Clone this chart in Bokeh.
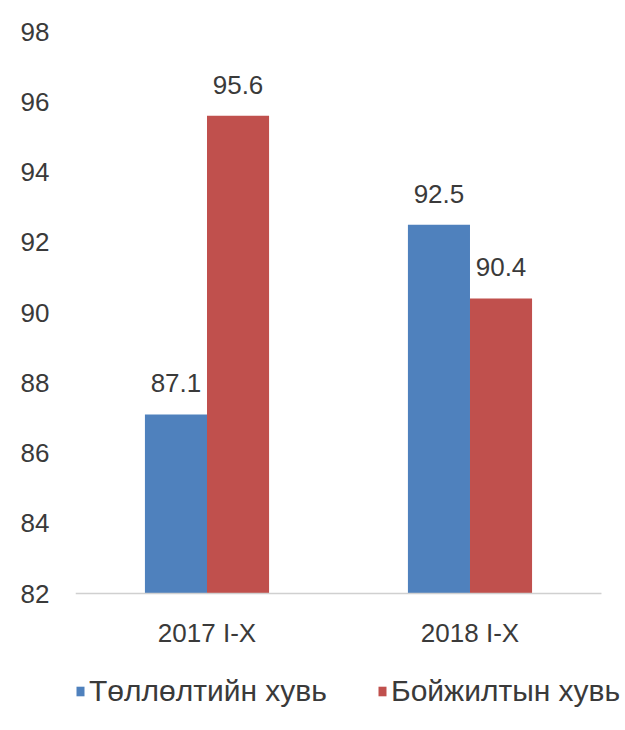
from bokeh.plotting import figure
from bokeh.models import ColumnDataSource, Range1d, FixedTicker, Legend, LegendItem, LabelSet
from bokeh.core.properties import value
from bokeh.embed import file_html
from bokeh.resources import INLINE

categories = ["2017 I-X", "2018 I-X"]
series_names = ["Төллөлтийн хувь", "Бойжилтын хувь"]
birth_rate = [87.1, 92.5]
survival_rate = [95.6, 90.4]
y_ticks = [82, 84, 86, 88, 90, 92, 94, 96, 98]
colors = ["#4F81BD", "#C0504D"]

FONT = "Liberation Sans"
FS = "26px"
TXT = "#3a3a3a"

# frame extends below the value axis (and a little past the last category)
# so the legend can sit inside it without being clipped
Y_LOW = 78.386
X_HIGH = len(categories) + 0.0913
bw = 0.236

centers = [i + 0.5 for i in range(len(categories))]
src = ColumnDataSource(dict(
    cat=categories,
    xc=centers,
    xa=[c - bw / 2 for c in centers],
    xb=[c + bw / 2 for c in centers],
    a=birth_rate,
    b=survival_rate,
    base=[y_ticks[0]] * len(categories),
    a_lbl=[f"{v:.1f}" for v in birth_rate],
    b_lbl=[f"{v:.1f}" for v in survival_rate],
))

p = figure(x_range=Range1d(0, X_HIGH), y_range=Range1d(Y_LOW, y_ticks[-1]),
           width=625, height=730, output_backend="svg", toolbar_location=None,
           min_border_left=75, min_border_right=0, min_border_top=31, min_border_bottom=10)
p.outline_line_color = None
p.xgrid.grid_line_color = None
p.ygrid.grid_line_color = None
p.xaxis.visible = False

r1 = p.vbar(x="xa", top="a", bottom="base", width=bw,
            source=src, fill_color=colors[0], line_color=None)
r2 = p.vbar(x="xb", top="b", bottom="base", width=bw,
            source=src, fill_color=colors[1], line_color=None)

# category axis line at the base value, spanning the categories
p.segment(x0=[0], x1=[len(categories)], y0=[y_ticks[0]], y1=[y_ticks[0]],
          line_color="#d0d0d0", line_width=1.5)

# value labels
for col, lbl, xcol in (("a", "a_lbl", "xa"), ("b", "b_lbl", "xb")):
    p.add_layout(LabelSet(x=xcol, y=col, text=lbl, source=src,
                          text_align="center", text_baseline="bottom", y_offset=22,
                          text_font=value(FONT), text_font_size=value(FS), text_color=TXT))

# category labels
p.add_layout(LabelSet(x="xc", y="base", text="cat", source=src,
                      text_align="center", text_baseline="top", y_offset=-24,
                      text_font=value(FONT), text_font_size=value(FS), text_color=TXT))

p.yaxis.ticker = FixedTicker(ticks=y_ticks)
p.yaxis.axis_line_color = None
p.yaxis.major_tick_line_color = None
p.yaxis.minor_tick_line_color = None
p.yaxis.major_label_standoff = 20
p.yaxis.major_label_text_font = FONT
p.yaxis.major_label_text_font_size = FS
p.yaxis.major_label_text_color = TXT

legend = Legend(items=[LegendItem(label=series_names[0], renderers=[r1]),
                       LegendItem(label=series_names[1], renderers=[r2])],
                orientation="horizontal", location=(0, 12),
                glyph_width=10, glyph_height=12, label_standoff=4, spacing=50,
                padding=0, margin=0, border_line_color=None, background_fill_alpha=0,
                label_text_font=FONT, label_text_font_size="30px", label_text_color=TXT)
p.add_layout(legend)

open("out.html", "w").write(file_html(p, INLINE))
